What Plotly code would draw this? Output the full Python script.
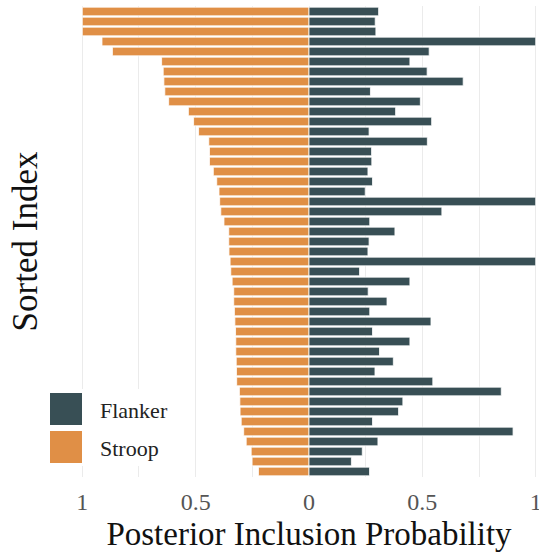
import plotly.graph_objects as go

# Data (sorted by Stroop posterior inclusion probability)
sorted_index = list(range(1, 48))
stroop = [1.00, 1.00, 1.00, 0.913, 0.867, 0.650, 0.643, 0.640, 0.636, 0.619,
          0.532, 0.509, 0.487, 0.442, 0.439, 0.439, 0.422, 0.407, 0.397, 0.394,
          0.389, 0.375, 0.354, 0.354, 0.353, 0.348, 0.345, 0.339, 0.332, 0.332,
          0.329, 0.327, 0.324, 0.323, 0.323, 0.321, 0.320, 0.319, 0.307, 0.305,
          0.304, 0.299, 0.288, 0.277, 0.255, 0.251, 0.223]
flanker = [0.307, 0.292, 0.295, 1.00, 0.530, 0.445, 0.521, 0.680, 0.271, 0.491,
           0.382, 0.541, 0.265, 0.522, 0.276, 0.277, 0.260, 0.280, 0.248, 1.00,
           0.586, 0.268, 0.379, 0.265, 0.260, 1.00, 0.223, 0.445, 0.261, 0.344,
           0.268, 0.538, 0.280, 0.445, 0.311, 0.372, 0.291, 0.546, 0.848, 0.414,
           0.395, 0.280, 0.900, 0.304, 0.235, 0.187, 0.267]
tick_vals = [-1, -0.5, 0, 0.5, 1]
tick_text = ["1", "0.5", "0", "0.5", "1"]
series_names = ["Flanker", "Stroop"]

C_FLANKER = "#384F55"
C_STROOP = "#E08F46"
FONT = "Liberation Serif"

fig = go.Figure()
fig.add_trace(go.Bar(
    x=[-v for v in stroop], y=sorted_index, orientation="h", name="Stroop",
    marker=dict(color=C_STROOP, line=dict(color="white", width=0.8)),
    width=0.87, showlegend=False))
fig.add_trace(go.Bar(
    x=flanker, y=sorted_index, orientation="h", name="Flanker",
    marker=dict(color=C_FLANKER, line=dict(color="white", width=0.8)),
    width=0.87, showlegend=False))

W, H = 539, 552
L, R, T, B = 80, 1, 6, 75
pw, ph = W - L - R, H - T - B

def px(x):
    return (x - L) / pw

def py(y):
    return 1 - (y - T) / ph

shapes = [dict(type="rect", xref="paper", yref="paper",
               x0=px(46), x1=px(186), y0=py(466), y1=py(389),
               fillcolor="white", line=dict(width=0), layer="above")]
annots = []
legend_y = [(393, 425), (431, 463)]
legend_c = [C_FLANKER, C_STROOP]
for name, (y0, y1), c in zip(series_names, legend_y, legend_c):
    shapes.append(dict(type="rect", xref="paper", yref="paper",
                       x0=px(50), x1=px(82), y0=py(y1), y1=py(y0),
                       fillcolor=c, line=dict(width=0), layer="above"))
    annots.append(dict(text=name, xref="paper", yref="paper",
                       x=px(98), y=py((y0 + y1) / 2 + 1), xanchor="left",
                       yanchor="middle", showarrow=False,
                       font=dict(family=FONT, size=22, color="#222")))

fig.update_layout(
    width=W, height=H,
    margin=dict(l=L, r=R, t=T, b=B, autoexpand=False),
    plot_bgcolor="white", paper_bgcolor="white",
    barmode="overlay", bargap=0.13,
    font=dict(family=FONT, color="#222"),
    shapes=shapes, annotations=annots,
    xaxis=dict(range=[-1.01, 1.01], tickvals=tick_vals, ticktext=tick_text,
               showgrid=True, gridcolor="#EBEBEB", gridwidth=1.2,
               minor=dict(dtick=0.25, tick0=0, showgrid=True,
                          gridcolor="#EBEBEB", gridwidth=1.2),
               zeroline=False, showline=False, ticks="",
               ticklabeloverflow="allow", ticklabelstandoff=8,
               tickfont=dict(family=FONT, size=24, color="#555"),
               title=dict(text="Posterior Inclusion Probability",
                          font=dict(family=FONT, size=33, color="#111"),
                          standoff=7)),
    yaxis=dict(range=[47.55, 0.45], showticklabels=False, showgrid=False,
               zeroline=False, showline=False, ticks="",
               title=dict(text="Sorted Index",
                          font=dict(family=FONT, size=35, color="#111"),
                          standoff=30)),
)

fig.write_html("out.html")
